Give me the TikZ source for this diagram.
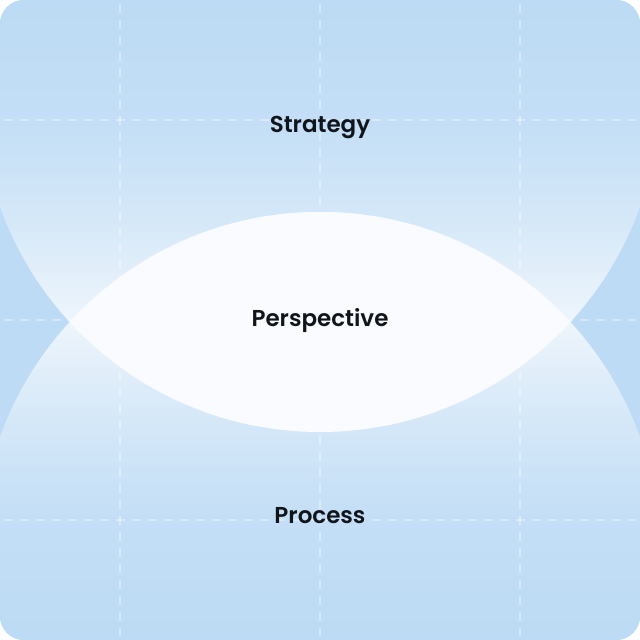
\documentclass[tikz,border=0pt]{standalone}
\usepackage{fontspec}
\setmainfont{Poppins}[UprightFont=* SemiBold]
\usepackage{tikz}

\definecolor{bgblue}{HTML}{BDDBF4}
\definecolor{fadeA}{HTML}{EEF5FC}
\definecolor{fadeB}{HTML}{D5E8F8}
\definecolor{fadeC}{HTML}{C3DEF6}
\definecolor{lensw}{HTML}{F9FBFE}
\definecolor{ink}{HTML}{10151C}

\pgfdeclareverticalshading{topfade}{100bp}{color(0bp)=(lensw); color(25bp)=(lensw); color(33.2bp)=(fadeA); color(40.6bp)=(fadeB); color(47.9bp)=(fadeC); color(56.8bp)=(bgblue); color(100bp)=(bgblue)}
\pgfdeclareverticalshading{bottomfade}{100bp}{color(0bp)=(bgblue); color(43.5bp)=(bgblue); color(52.4bp)=(fadeC); color(59.7bp)=(fadeB); color(67.1bp)=(fadeA); color(75bp)=(lensw); color(100bp)=(lensw)}

\tikzset{
	gridline/.style={white, opacity=0.38, line width=1.4pt, dash pattern=on 9pt off 7pt},
	word/.style={text=ink, font=\fontsize{23}{27}\selectfont, inner sep=0pt, anchor=base}
}

\begin{document}
\begin{tikzpicture}[x=1pt, y=-1pt]
	\useasboundingbox (0,0) rectangle (640,640);
	\begin{scope}
		\clip[rounded corners=24pt] (0,0) rectangle (640,640);
		\fill[bgblue] (0,0) rectangle (640,640);
		% the two circles
		\shade[shading=topfade] (320,92) circle[radius=340pt];
		\shade[shading=bottomfade] (320,552) circle[radius=340pt];
		% overlap
		\begin{scope}
			\clip (320,92) circle[radius=340pt];
			\fill[lensw] (320,552) circle[radius=340pt];
		\end{scope}
		% dashed grid
		\foreach \g in {120,320,520} {
			\draw[gridline] (\g,4) -- (\g,636);
			\draw[gridline] (4,\g) -- (636,\g);
		}
	\end{scope}

	\node[word] (strategy) at (320,132) {Strategy};
	\node[word] (perspective) at (320,326) {Perspective};
	\node[word] (process) at (320,523) {Process};
\end{tikzpicture}
\end{document}
